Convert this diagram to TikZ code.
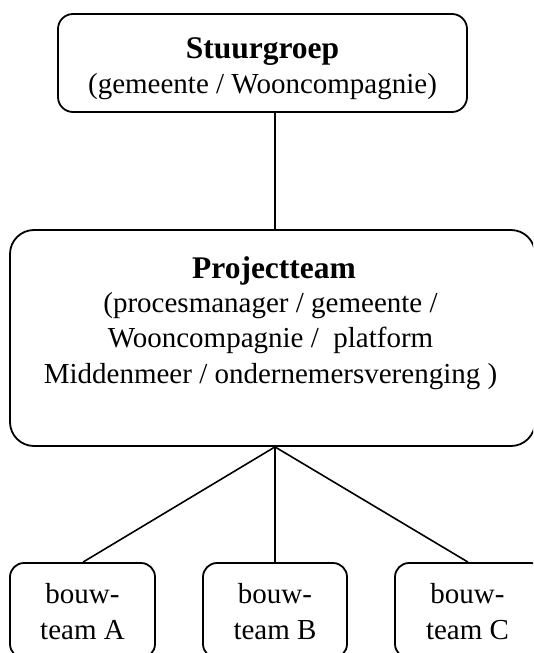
\documentclass[tikz,border=0pt]{standalone}
\usepackage{fontspec}
\setmainfont{Liberation Serif}
\begin{document}
\begin{tikzpicture}[x=1pt,y=-1pt,
  box/.style={draw,line width=1.8pt,rounded corners=#1,inner sep=0pt},
  txt/.style={anchor=base,inner sep=0pt,font=\fontsize{29}{35}\selectfont},
  ttl/.style={anchor=base,inner sep=0pt,font=\fontsize{31.5}{35}\selectfont\bfseries},
  link/.style={line width=1.6pt}]
\useasboundingbox (0,0) rectangle (533,653);
\clip (0,0) rectangle (533,653);
% boxes
\node[box=15pt,minimum width=409pt,minimum height=98pt] (sg) at (262.5,63) {};
\node[box=24pt,minimum width=525pt,minimum height=216pt] (pt) at (272.5,338) {};
\node[box=14pt,minimum width=145pt,minimum height=95pt] (ba) at (82.5,610.5) {};
\node[box=14pt,minimum width=144pt,minimum height=95pt] (bb) at (275,610.5) {};
\node[box=14pt,minimum width=150pt,minimum height=95pt] (bc) at (470,610.5) {};
% texts
\node[ttl] (sgt) at (262.5,58) {Stuurgroep};
\node[txt] (sgs) at (262.5,93.5) {(gemeente / Wooncompagnie)};
\node[ttl] (ptt) at (274,278) {Projectteam};
\node[txt] (pt1) at (270.5,312) {(procesmanager / gemeente /};
\node[txt] (pt2) at (270.5,347.5) {Wooncompagnie / \ platform};
\node[txt] (pt3) at (270.5,383) {Middenmeer / ondernemersverenging )};
\node[txt] (ba1) at (82.5,603) {bouw-};
\node[txt] (ba2) at (82.5,639) {team A};
\node[txt] (bb1) at (275,603) {bouw-};
\node[txt] (bb2) at (275,639) {team B};
\node[txt] (bc1) at (467.5,603) {bouw-};
\node[txt] (bc2) at (467.5,639) {team C};
% connectors
\coordinate (jx) at (275,0);
\coordinate (ax) at (83,0);
\coordinate (cx) at (468,0);
\draw[link] (sg.south -| jx) -- (pt.north -| jx);
\draw[link] (pt.south -| jx) -- (ba.north -| ax);
\draw[link] (pt.south -| jx) -- (bb.north);
\draw[link] (pt.south -| jx) -- (bc.north -| cx);
\end{tikzpicture}
\end{document}
